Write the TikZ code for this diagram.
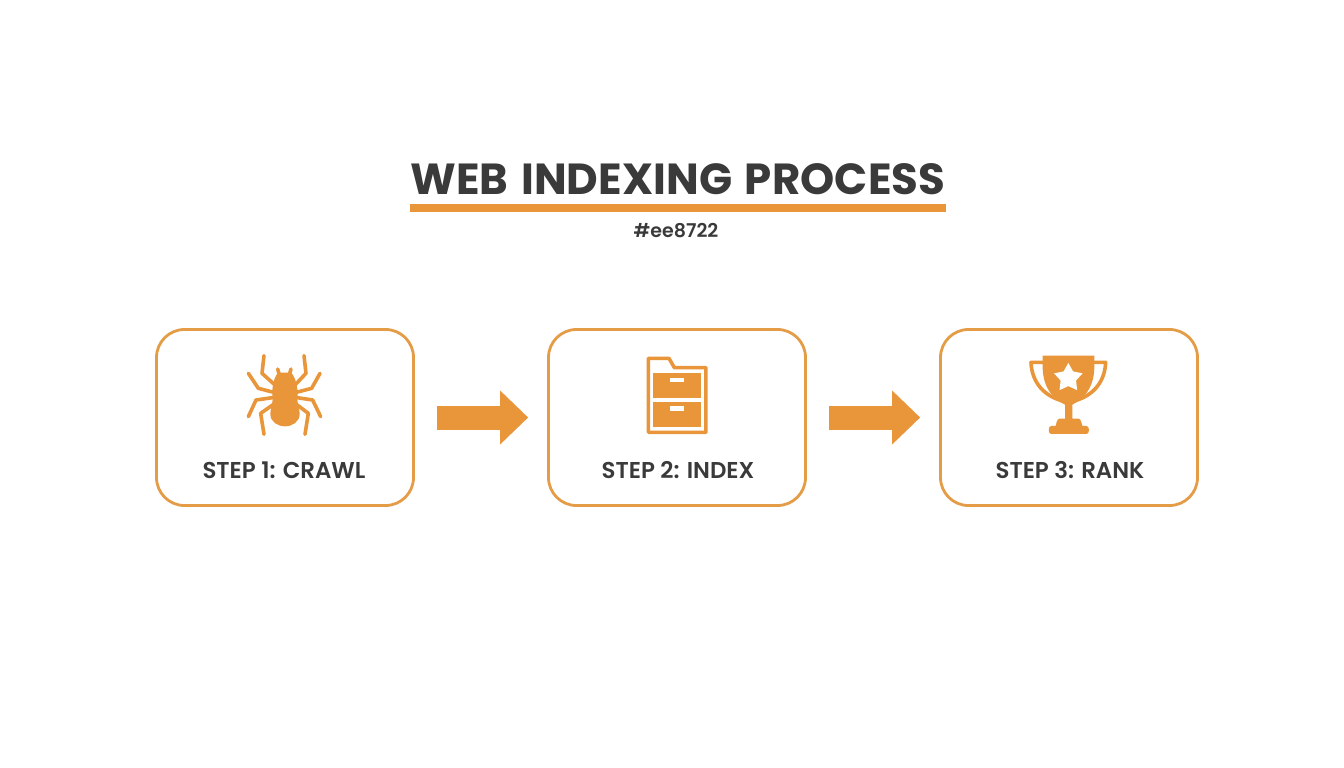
\documentclass[tikz,border=0pt]{standalone}
\usepackage{fontspec}
\setmainfont{Poppins}
\newfontfamily\semi{Poppins SemiBold}
\newfontfamily\titlef[LetterSpace=0.3,WordSpace=1.33]{Poppins}
\usetikzlibrary{arrows.meta,shapes.geometric}
\definecolor{org}{HTML}{E9963A}
\definecolor{boxc}{HTML}{E59C47}
\definecolor{ink}{HTML}{3A3A3A}
\tikzset{
  stepbox/.style={draw=boxc,line width=2.8pt,rounded corners=28pt,minimum width=257pt,minimum height=176pt,inner sep=0pt,fill=white},
  steplabel/.style={text=ink,font=\semi\fontsize{22.9}{26}\selectfont,inner sep=0pt,anchor=center},
  flow/.style={org,line width=24pt,-{Triangle[length=28pt,width=54pt,fill=org,line width=0pt]},shorten <=22pt,shorten >=19pt},
  leg/.style={org,line width=3.6pt,line cap=round,line join=round},
  icon/.style={x=0.3333pt,y=-0.3333pt}
}
\begin{document}
\begin{tikzpicture}[x=1pt,y=-1pt]
\useasboundingbox (0,0) rectangle (1344,768);
\fill[white] (0,0) rectangle (1344,768);
\node[text=ink,font=\titlef\bfseries\fontsize{43.5}{50}\selectfont,inner sep=0pt] (title) at (678,179) {WEB INDEXING PROCESS};
\fill[org] (410,204) rectangle (946,211.5);
\node[text=ink,font=\semi\fontsize{19}{22}\selectfont,inner sep=0pt] (hex) at (676,231) {\#ee8722};

\node[stepbox] (b1) at (285,417.5) {};
\node[stepbox] (b2) at (677,417.5) {};
\node[stepbox] (b3) at (1069,417.5) {};
\node[steplabel] (l1) at (284,470) {STEP 1: CRAWL};
\node[steplabel] (l2) at (678,470) {STEP 2: INDEX};
\node[steplabel] (l3) at (1070,470) {STEP 3: RANK};
\draw[flow] (b1.east) -- (b2.west);
\draw[flow] (b2.east) -- (b3.west);

% spider
\begin{scope}[shift={(230,340)},icon]
\draw[leg] (102,47) -- (96,100) -- (135,135);
\draw[leg] (222,47) -- (228,100) -- (195,135);
\draw[leg] (55,100) -- (85,145) -- (135,158);
\draw[leg] (270,100) -- (245,145) -- (195,158);
\draw[leg] (55,230) -- (78,180) -- (135,172);
\draw[leg] (272,230) -- (248,180) -- (195,172);
\draw[leg] (102,283) -- (92,220) -- (135,190);
\draw[leg] (225,283) -- (235,220) -- (195,190);
\draw[leg] (143,87) -- (148,104);
\draw[leg] (183,87) -- (178,104);
\fill[org] (144,98) -- (184,98) .. controls (200,118) and (205,150) .. (202,178)
  .. controls (203,195) and (209,208) .. (209,222)
  .. controls (209,245) and (188,259) .. (165,259)
  .. controls (142,259) and (121,245) .. (121,222)
  .. controls (121,208) and (127,195) .. (128,178)
  .. controls (125,150) and (128,118) .. (144,98) -- cycle;
\end{scope}

% cabinet
\begin{scope}[shift={(625,340)},icon]
\draw[org,line width=3.5pt,line join=round] (70,55) -- (132,55) -- (148,83) -- (243,83) -- (243,277) -- (70,277) -- cycle;
\fill[org] (85,100) rectangle (228,175);
\fill[org] (85,187) rectangle (228,262);
\fill[white] (135,113) rectangle (178,127);
\fill[white] (135,199) rectangle (178,213);
\end{scope}

% trophy
\begin{scope}[shift={(1015,340)},icon]
\draw[org,line width=3.6pt,line join=round] (85,67) -- (48,67) .. controls (50,120) and (80,165) .. (140,182);
\draw[org,line width=3.6pt,line join=round] (236,67) -- (272,67) .. controls (270,120) and (240,165) .. (180,182);
\fill[org] (83,47) -- (238,47) -- (238,85) .. controls (236,145) and (205,178) .. (172,194)
  -- (172,236) -- (190,236) .. controls (198,236) and (200,250) .. (202,258)
  -- (215,258) .. controls (224,258) and (224,282) .. (215,282)
  -- (108,282) .. controls (99,282) and (99,258) .. (108,258)
  -- (122,258) .. controls (124,250) and (126,236) .. (134,236)
  -- (150,236) -- (150,194) .. controls (115,178) and (85,145) .. (83,85) -- cycle;
\node[star,star points=5,star point ratio=1.85,fill=white,draw=none,inner sep=0pt,minimum size=30pt] (st) at (160,114) {};
\end{scope}
\end{tikzpicture}
\end{document}
